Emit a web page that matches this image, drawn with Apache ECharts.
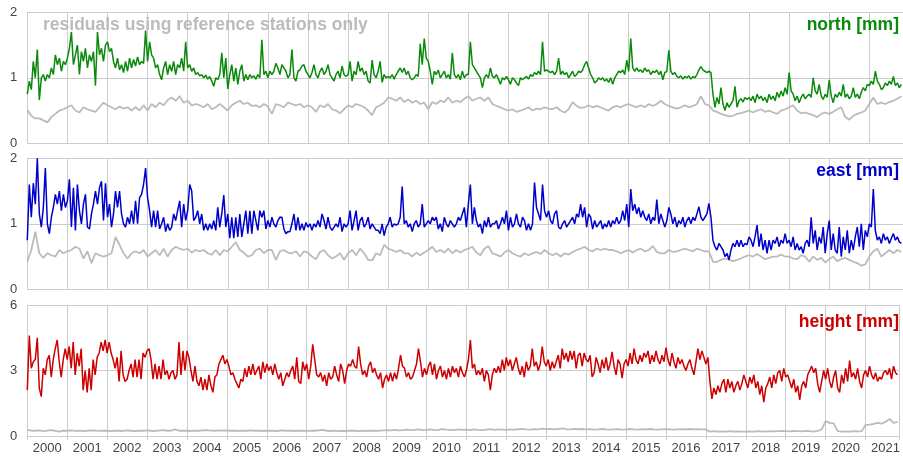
<!DOCTYPE html>
<html>
<head>
<meta charset="utf-8">
<title>GNSS residuals</title>
<script src="https://cdn.jsdelivr.net/npm/echarts@6/dist/echarts.min.js"></script>
<style>
  html, body { margin: 0; padding: 0; background: #fff; }
  #chart { width: 903px; height: 458px; }
</style>
</head>
<body>
<div id="chart"></div>
<script>
// Sampling: colored series every 0.05 yr, reference-station series every 0.1 yr, starting 2000.0
const T0 = 2000;
const STEP = 0.05;
const REF_STEP = 0.1;
const X_MAX = 2021.84;

// Year tick labels (drawn centred in each year)
const yearLabels = [2000, 2001, 2002, 2003, 2004, 2005, 2006, 2007, 2008, 2009, 2010,
  2011, 2012, 2013, 2014, 2015, 2016, 2017, 2018, 2019, 2020, 2021];

// Panel titles and y ticks
const panelTitles = ['north [mm]', 'east [mm]', 'height [mm]'];
const yMaxes = [2, 2, 6];
const yIntervals = [1, 1, 3];
const refCaption = 'residuals using reference stations only';

// North residuals [mm]
const northMm = [
  0.75,0.95,0.82,1.25,1.0,1.43,0.66,1.0,1.05,0.95,1.05,1.0,1.15,1.05,1.35,1.2,1.3,1.1,1.25,1.2,
  1.3,1.45,1.7,1.2,1.35,1.5,1.05,1.4,1.25,1.45,1.15,1.35,1.25,1.4,0.88,1.7,1.35,1.45,1.25,1.5,
  1.55,1.4,1.45,1.25,1.15,1.3,1.12,1.2,1.08,1.25,1.1,1.3,1.15,1.28,1.18,1.32,1.2,1.25,1.22,1.72,
  1.25,1.55,1.35,1.3,1.15,1.2,1.05,0.97,1.15,1.25,1.05,1.2,1.1,1.25,1.05,1.2,1.15,1.3,1.1,1.55,
  1.15,1.2,1.1,1.15,1.05,1.08,1.03,1.05,1.0,1.04,0.98,1.02,0.95,0.87,1.0,0.97,1.05,1.38,1.0,1.3,
  0.83,1.05,1.2,0.95,1.15,0.9,1.1,1.2,0.95,1.05,0.97,1.05,1.0,1.03,0.98,1.05,1.0,1.58,1.05,1.1,
  1.0,1.1,1.05,1.1,1.22,1.15,1.05,1.2,1.15,1.1,1.0,1.05,1.43,1.0,0.95,1.1,1.12,1.18,1.2,1.1,
  1.05,1.0,1.08,1.2,1.05,1.0,1.1,1.15,1.05,1.1,1.2,1.05,1.0,0.95,1.05,1.1,1.0,1.18,1.05,1.02,
  1.05,1.25,0.95,1.1,1.05,1.25,1.1,1.15,1.05,1.1,0.95,0.92,1.27,1.05,1.0,1.1,1.25,0.93,1.05,1.0,
  1.02,1.0,1.05,0.98,1.05,1.1,1.15,1.08,1.15,1.05,1.1,1.0,0.97,1.0,1.05,1.02,1.52,1.2,1.6,1.3,
  1.25,1.1,0.9,1.1,1.05,1.12,1.0,1.05,1.1,1.0,1.05,0.98,1.38,1.05,1.0,1.05,0.97,1.1,1.0,1.05,
  1.05,1.55,1.2,1.15,1.1,1.05,1.0,0.85,1.0,1.05,1.0,1.15,1.02,1.0,1.05,0.98,0.9,1.0,0.97,1.02,
  0.97,0.9,1.0,0.97,0.92,0.88,1.0,0.97,1.0,1.02,0.98,1.05,1.02,1.08,1.05,1.1,1.05,1.55,1.1,1.12,
  1.1,1.08,1.1,1.05,1.1,1.3,1.05,1.1,1.05,1.08,1.0,1.05,1.1,1.02,1.05,1.1,1.08,1.12,1.2,1.25,
  1.15,1.05,1.0,0.92,0.95,1.0,0.97,1.0,0.95,0.98,0.93,1.0,0.9,1.0,1.05,1.1,1.08,1.12,1.05,1.27,
  1.1,1.6,1.15,1.1,1.15,1.1,1.12,1.08,1.15,1.1,1.12,1.05,1.1,1.08,1.12,1.05,1.1,0.97,1.08,1.1,
  1.42,1.1,1.05,1.08,1.02,1.0,1.03,0.98,1.02,1.0,1.03,0.98,1.02,1.0,1.05,1.12,1.17,1.12,1.1,1.08,
  1.1,1.08,0.75,0.55,0.7,0.6,0.85,0.6,0.5,0.62,0.55,0.6,0.65,0.87,0.55,0.65,0.68,0.63,0.7,0.67,
  0.7,0.65,0.72,0.62,0.75,0.68,0.72,0.65,0.7,0.62,0.75,0.67,0.72,0.65,0.78,0.7,0.8,0.72,0.85,0.75,
  1.08,0.8,0.75,0.65,0.72,0.62,0.7,0.75,0.68,0.72,0.75,0.7,1.0,0.8,0.75,0.9,0.72,0.67,0.75,0.7,
  0.97,0.72,0.62,0.75,0.7,0.78,0.72,0.9,0.7,0.75,0.68,0.72,0.85,0.7,0.75,0.68,0.78,0.85,0.8,0.9,
  0.88,0.95,0.9,1.1,0.95,0.9,0.82,0.85,0.92,0.88,0.95,0.9,1.02,0.88,0.92,0.85,0.9
];

// North residuals, reference stations only [mm]
const northRefMm = [
  0.51,0.42,0.38,0.38,0.35,0.32,0.4,0.45,0.5,0.52,
  0.55,0.58,0.5,0.47,0.55,0.52,0.5,0.48,0.55,0.62,
  0.58,0.55,0.52,0.56,0.53,0.55,0.5,0.55,0.5,0.58,
  0.5,0.6,0.55,0.62,0.58,0.66,0.7,0.65,0.72,0.62,
  0.65,0.58,0.6,0.58,0.55,0.6,0.52,0.55,0.6,0.55,
  0.5,0.58,0.62,0.65,0.6,0.62,0.57,0.58,0.55,0.6,
  0.56,0.45,0.6,0.58,0.55,0.62,0.6,0.58,0.6,0.55,
  0.58,0.55,0.48,0.58,0.55,0.6,0.52,0.5,0.46,0.52,
  0.58,0.55,0.6,0.58,0.55,0.5,0.43,0.55,0.58,0.62,
  0.7,0.68,0.65,0.7,0.63,0.67,0.62,0.65,0.6,0.62,
  0.52,0.63,0.6,0.65,0.63,0.7,0.62,0.65,0.63,0.68,
  0.72,0.65,0.68,0.7,0.65,0.7,0.6,0.57,0.55,0.52,
  0.5,0.52,0.48,0.5,0.52,0.55,0.5,0.53,0.52,0.55,
  0.53,0.52,0.55,0.5,0.47,0.52,0.63,0.57,0.54,0.55,
  0.58,0.55,0.57,0.55,0.52,0.5,0.55,0.57,0.55,0.58,
  0.6,0.57,0.55,0.58,0.55,0.6,0.57,0.6,0.65,0.6,
  0.57,0.55,0.53,0.55,0.58,0.55,0.57,0.6,0.72,0.6,
  0.58,0.5,0.48,0.45,0.43,0.41,0.42,0.45,0.46,0.48,
  0.5,0.47,0.5,0.52,0.48,0.5,0.47,0.45,0.5,0.52,
  0.55,0.58,0.5,0.46,0.47,0.45,0.43,0.4,0.45,0.47,
  0.45,0.48,0.52,0.55,0.4,0.36,0.42,0.45,0.47,0.5,
  0.6,0.7,0.6,0.62,0.6,0.63,0.65,0.68,0.72
];

// East residuals [mm]
const eastMm = [
  0.75,1.6,1.1,1.62,1.3,2.0,1.15,0.95,1.25,1.85,1.0,0.85,1.1,1.25,1.45,1.3,1.5,1.2,1.45,1.25,
  1.35,1.68,0.95,1.55,0.9,1.6,1.2,1.0,1.3,1.45,0.95,0.92,1.15,1.3,1.5,1.3,1.55,1.65,1.05,1.62,
  1.1,1.3,0.95,1.15,1.5,1.25,1.5,1.15,1.0,0.95,1.1,1.0,1.2,1.0,1.35,1.0,1.4,1.45,1.6,1.85,
  1.4,1.2,0.95,1.2,0.95,1.2,0.92,1.0,1.1,0.88,1.0,0.9,0.95,1.15,1.05,1.2,1.35,0.95,1.3,1.05,
  1.2,1.6,1.5,1.05,1.1,1.2,1.0,1.15,0.9,1.0,0.9,1.0,0.92,1.05,0.9,1.25,0.95,1.15,1.44,0.95,
  1.15,0.78,1.1,0.78,1.1,0.8,1.15,0.8,1.0,1.2,0.85,1.2,0.85,1.2,1.05,0.9,1.2,1.1,1.2,0.92,
  1.05,0.95,1.1,1.0,0.95,1.05,1.1,1.1,0.92,0.85,0.88,0.88,1.0,1.15,0.9,1.1,0.9,1.0,0.9,1.02,
  0.95,1.0,0.9,1.0,0.95,1.05,0.95,1.15,1.05,0.92,1.1,0.95,0.9,0.95,1.0,0.95,1.1,0.88,1.0,0.95,
  1.0,1.2,0.9,1.05,1.2,0.9,1.05,1.1,0.95,1.0,1.1,0.92,1.0,0.95,0.9,0.9,0.85,1.0,0.82,0.95,
  1.0,1.1,0.95,1.0,0.98,1.0,1.1,1.57,1.0,1.05,0.95,1.0,0.88,1.0,1.05,0.95,1.0,1.3,0.95,1.0,
  1.05,1.0,1.1,1.05,1.1,0.92,1.0,0.88,1.1,1.0,0.95,1.05,1.0,0.95,1.0,1.1,1.05,1.15,1.25,0.95,
  1.3,1.6,1.0,1.25,1.05,0.95,1.0,0.85,1.05,0.95,1.1,0.95,1.0,1.0,1.05,0.92,1.0,1.1,1.0,1.2,
  0.9,1.1,0.95,1.0,1.15,1.0,0.95,1.1,1.05,0.9,1.0,0.9,1.0,1.63,1.25,1.15,1.05,1.6,1.2,1.1,
  1.2,1.05,1.0,1.15,1.2,0.95,0.92,1.0,1.05,0.95,1.0,1.05,1.1,1.0,1.15,1.1,1.3,1.1,1.25,0.95,
  1.15,1.1,0.92,1.05,0.95,1.0,1.05,0.92,1.0,0.95,1.05,0.95,1.05,1.0,1.1,1.0,1.05,1.2,1.05,1.3,
  0.95,1.53,1.2,1.3,1.15,1.25,1.1,1.2,1.1,1.05,1.15,1.0,1.1,1.05,1.37,1.0,1.15,1.05,0.95,1.05,
  1.25,1.15,1.0,1.1,0.95,1.05,1.0,1.1,0.95,1.05,1.1,1.0,1.1,1.05,1.15,1.26,1.1,1.05,1.1,1.15,
  1.31,1.1,0.75,0.65,0.6,0.7,0.65,0.6,0.5,0.55,0.45,0.6,0.7,0.65,0.75,0.65,0.75,0.65,0.7,0.68,
  0.8,0.75,0.65,0.8,0.98,0.65,0.85,0.6,0.75,0.55,0.75,0.6,0.75,0.7,0.8,0.65,0.75,0.7,0.85,0.7,
  0.75,0.65,0.8,0.6,0.7,0.6,0.65,0.55,0.7,0.75,0.65,1.1,0.7,0.9,0.6,0.8,0.7,0.95,0.55,0.85,
  1.05,0.6,0.85,0.6,0.55,0.95,0.5,0.8,0.6,0.9,0.55,0.75,0.6,0.8,0.95,0.65,1.0,0.6,0.9,0.8,
  1.0,0.95,1.53,0.9,0.75,0.8,0.7,0.85,0.75,0.8,0.7,0.78,0.85,0.75,0.8,0.72,0.7
];

// East residuals, reference stations only [mm]
const eastRefMm = [
  0.42,0.6,0.88,0.55,0.48,0.55,0.52,0.5,0.6,0.55,
  0.58,0.6,0.65,0.62,0.47,0.58,0.4,0.55,0.52,0.5,
  0.52,0.55,0.8,0.68,0.55,0.47,0.55,0.58,0.55,0.6,
  0.5,0.55,0.6,0.52,0.62,0.5,0.6,0.65,0.62,0.6,
  0.62,0.56,0.6,0.58,0.6,0.55,0.53,0.6,0.52,0.6,
  0.58,0.65,0.72,0.6,0.56,0.5,0.52,0.6,0.62,0.55,
  0.6,0.6,0.45,0.58,0.6,0.56,0.55,0.58,0.5,0.58,
  0.56,0.5,0.46,0.57,0.6,0.52,0.47,0.5,0.55,0.45,
  0.55,0.6,0.52,0.62,0.55,0.45,0.44,0.55,0.52,0.68,
  0.62,0.6,0.57,0.6,0.55,0.55,0.5,0.56,0.52,0.56,
  0.6,0.65,0.57,0.6,0.56,0.62,0.55,0.6,0.56,0.6,
  0.62,0.65,0.56,0.52,0.62,0.66,0.55,0.53,0.5,0.56,
  0.6,0.55,0.52,0.5,0.55,0.52,0.55,0.57,0.54,0.6,
  0.55,0.52,0.55,0.5,0.55,0.53,0.57,0.6,0.62,0.65,
  0.6,0.58,0.62,0.6,0.62,0.6,0.6,0.58,0.55,0.58,
  0.6,0.56,0.6,0.62,0.58,0.6,0.66,0.57,0.55,0.55,
  0.6,0.57,0.58,0.6,0.62,0.6,0.58,0.62,0.6,0.58,
  0.58,0.42,0.42,0.45,0.47,0.45,0.43,0.45,0.47,0.5,
  0.52,0.5,0.54,0.5,0.46,0.48,0.5,0.5,0.53,0.5,
  0.5,0.47,0.46,0.52,0.5,0.42,0.5,0.45,0.48,0.41,
  0.46,0.5,0.43,0.46,0.48,0.45,0.42,0.4,0.36,0.38,
  0.5,0.58,0.62,0.5,0.55,0.6,0.55,0.6,0.57
];

// Height residuals [mm]
const heightMm = [
  2.1,4.6,3.1,3.4,3.5,4.5,2.2,1.8,3.1,2.8,3.5,3.7,2.7,3.5,4.0,4.4,3.4,2.7,3.5,4.0,
  3.5,4.1,3.1,4.3,2.8,3.8,3.2,4.0,2.1,3.0,2.0,3.1,2.1,3.5,2.8,3.6,3.8,4.3,3.9,4.4,
  3.8,4.3,3.8,3.5,3.1,3.6,2.5,3.9,2.8,2.5,2.6,3.0,3.3,2.7,3.5,2.7,3.5,2.6,3.8,3.6,
  3.9,4.0,3.5,2.6,3.3,2.6,3.2,2.6,3.5,2.8,3.0,2.6,2.9,3.0,2.6,2.8,4.3,2.8,3.9,3.0,
  3.9,3.6,3.0,2.5,3.2,2.5,2.3,2.7,2.1,2.6,2.1,2.8,2.3,2.0,2.7,2.8,3.3,3.5,3.7,3.3,
  3.5,3.2,2.8,2.9,2.6,2.4,2.2,2.6,2.5,3.1,2.7,3.2,2.8,3.3,2.8,3.0,3.2,2.6,3.4,2.9,
  3.3,3.0,3.2,2.8,3.3,2.9,2.6,2.9,2.3,2.6,2.9,2.7,3.0,3.2,2.6,3.6,2.5,2.4,3.4,3.0,
  3.3,2.6,3.2,4.2,3.5,2.8,2.7,2.9,2.5,2.8,2.3,2.9,2.6,2.7,3.2,2.8,2.5,3.3,3.0,2.4,
  3.0,3.3,3.2,3.5,3.2,3.1,4.1,3.3,2.8,3.0,2.7,3.2,3.4,2.9,3.1,2.8,2.6,2.9,2.2,2.6,
  2.8,2.5,2.9,2.5,2.9,2.6,3.1,3.7,3.2,3.1,2.7,2.9,2.6,2.7,3.0,3.3,4.0,3.4,2.7,3.1,
  2.8,3.2,3.4,2.8,3.3,2.6,3.0,3.2,2.7,3.0,2.6,3.1,2.7,3.2,2.9,3.1,2.7,3.2,2.9,2.7,
  3.0,3.5,4.4,3.1,3.3,2.8,3.0,2.8,3.1,2.5,3.0,2.8,2.1,2.8,3.1,2.9,3.2,2.9,3.5,3.0,
  3.6,3.2,3.5,3.0,3.3,3.6,3.1,2.8,3.2,2.7,3.4,3.0,3.2,4.0,3.2,3.4,3.0,3.3,4.1,3.4,
  3.2,3.5,3.0,3.4,3.1,3.4,3.7,3.1,4.0,3.5,3.8,3.4,3.9,3.5,3.9,3.1,3.7,3.8,3.2,3.8,
  3.5,3.4,3.7,2.7,2.9,3.6,3.3,2.9,3.5,3.1,3.6,3.0,3.3,3.85,3.2,2.8,3.5,3.3,2.65,3.3,
  3.5,3.2,3.8,3.3,4.0,3.5,3.3,3.7,3.4,3.8,3.6,3.9,3.3,3.7,3.4,3.9,3.5,3.3,3.7,3.4,
  4.05,3.5,3.2,3.8,3.4,3.1,3.6,3.3,3.5,3.2,3.0,3.3,3.5,3.1,2.8,3.4,4.0,3.5,3.9,3.6,
  3.3,3.6,2.5,1.7,2.2,1.9,2.3,2.0,2.4,2.6,2.0,2.6,2.2,2.5,2.0,2.3,2.5,2.1,2.4,2.8,
  2.5,2.2,2.7,2.4,2.8,2.2,2.5,1.9,2.3,1.55,2.2,2.4,2.7,2.2,2.8,2.4,2.9,3.0,2.5,3.1,
  2.7,2.8,2.5,2.2,2.6,2.0,2.3,1.65,2.3,2.5,2.2,2.8,3.0,3.2,2.9,3.1,2.4,2.0,2.5,3.0,
  2.6,3.1,2.5,2.2,2.7,3.0,2.2,2.0,2.8,2.4,3.1,2.5,3.45,2.7,2.9,2.6,3.1,2.5,2.2,2.8,
  3.0,2.7,3.2,2.8,2.6,2.9,2.5,2.7,2.6,2.9,3.0,2.8,3.1,2.6,3.2,2.9,2.8
];

// Height residuals, reference stations only [mm]
const heightRefMm = [
  0.28,0.25,0.24,0.26,0.22,0.25,0.27,0.24,0.2,0.25,
  0.24,0.26,0.23,0.25,0.22,0.24,0.26,0.25,0.23,0.25,
  0.24,0.22,0.25,0.24,0.23,0.26,0.24,0.22,0.25,0.24,
  0.26,0.24,0.23,0.25,0.27,0.24,0.25,0.3,0.24,0.25,
  0.24,0.23,0.25,0.24,0.26,0.27,0.25,0.24,0.26,0.25,
  0.26,0.24,0.25,0.23,0.25,0.24,0.26,0.24,0.25,0.23,
  0.24,0.25,0.23,0.24,0.26,0.24,0.25,0.23,0.24,0.25,
  0.23,0.25,0.24,0.26,0.28,0.24,0.23,0.25,0.22,0.24,
  0.23,0.25,0.24,0.22,0.25,0.23,0.24,0.25,0.23,0.26,
  0.27,0.26,0.28,0.26,0.27,0.29,0.27,0.28,0.3,0.27,
  0.28,0.3,0.27,0.28,0.31,0.29,0.28,0.27,0.3,0.28,
  0.29,0.27,0.3,0.28,0.27,0.29,0.31,0.28,0.3,0.29,
  0.28,0.3,0.29,0.31,0.33,0.3,0.29,0.31,0.3,0.34,
  0.31,0.33,0.3,0.32,0.35,0.31,0.3,0.33,0.31,0.32,
  0.3,0.31,0.29,0.3,0.32,0.3,0.29,0.3,0.31,0.29,
  0.3,0.32,0.3,0.29,0.31,0.3,0.32,0.3,0.29,0.3,
  0.31,0.3,0.29,0.3,0.31,0.3,0.32,0.3,0.31,0.3,
  0.3,0.2,0.22,0.2,0.21,0.2,0.22,0.2,0.21,0.2,
  0.2,0.21,0.2,0.22,0.21,0.2,0.22,0.21,0.22,0.23,
  0.22,0.21,0.23,0.22,0.21,0.23,0.22,0.2,0.23,0.3,
  0.68,0.6,0.58,0.22,0.2,0.21,0.2,0.22,0.21,0.22,
  0.5,0.52,0.55,0.6,0.57,0.65,0.78,0.6,0.65
];

const COLORS = ['#0a8a0a', '#0000cc', '#cc0000'];
const REF_COLOR = '#bbbbbb';
const FONT = 'Arial, "Liberation Sans", sans-serif';

function toPairs(vals, step) {
  return vals.map((v, i) => [+(T0 + i * step).toFixed(3), v]);
}

const panels = [
  { main: northMm, ref: northRefMm },
  { main: eastMm, ref: eastRefMm },
  { main: heightMm, ref: heightRefMm }
];

const GRID_TOPS = [12.3, 158.3, 305];
const GRID_H = 131;
const GRID_LEFT = 27.3;

const grids = GRID_TOPS.map(top => ({ left: GRID_LEFT, right: 0, top: top, height: GRID_H }));

const xAxes = GRID_TOPS.map((_, i) => ({
  type: 'value', gridIndex: i, min: T0, max: X_MAX, interval: 1,
  axisLine: { show: false },
  axisTick: { show: i === 2, length: 4, lineStyle: { color: '#cccccc' } },
  axisLabel: i === 2 ? {
    customValues: yearLabels.map(y => y + 0.5),
    formatter: v => String(Math.floor(v)),
    color: '#444', fontSize: 13, fontFamily: FONT, margin: 6
  } : { show: false },
  splitLine: { show: true, lineStyle: { color: '#cccccc', width: 1 } }
}));

const yAxes = GRID_TOPS.map((_, i) => ({
  type: 'value', gridIndex: i, min: 0, max: yMaxes[i], interval: yIntervals[i],
  axisLine: { show: false },
  axisTick: { show: false },
  axisLabel: { color: '#444', fontSize: 13, fontFamily: FONT, margin: 10 },
  splitLine: { show: true, lineStyle: { color: '#cccccc', width: 1 } }
}));

const series = [];
panels.forEach((p, i) => {
  series.push({
    type: 'line', xAxisIndex: i, yAxisIndex: i, data: toPairs(p.ref, REF_STEP),
    showSymbol: false, silent: true, z: 2,
    lineStyle: { color: REF_COLOR, width: 1.8 }
  });
  series.push({
    type: 'line', xAxisIndex: i, yAxisIndex: i, data: toPairs(p.main, STEP),
    showSymbol: false, silent: true, z: 3,
    lineStyle: { color: COLORS[i], width: 1.5 }
  });
});

// Panel titles sit above the plotted lines
const titleYs = [25.8, 172, 323.5];
const graphic = panelTitles.map((t, i) => ({
  type: 'text', right: 4, top: titleYs[i] - 10, z: 100,
  style: { text: t, fill: COLORS[i], font: 'bold 17.5px ' + FONT }
}));
graphic.push({
  type: 'text', left: 43, top: 25.8 - 10, z: 100,
  style: { text: refCaption, fill: '#bbbbbb', font: 'bold 17.5px ' + FONT }
});

const chart = echarts.init(document.getElementById('chart'), null, { renderer: 'canvas' });
chart.setOption({
  animation: false,
  backgroundColor: '#ffffff',
  grid: grids,
  xAxis: xAxes,
  yAxis: yAxes,
  series: series,
  graphic: graphic
});
</script>
</body>
</html>
